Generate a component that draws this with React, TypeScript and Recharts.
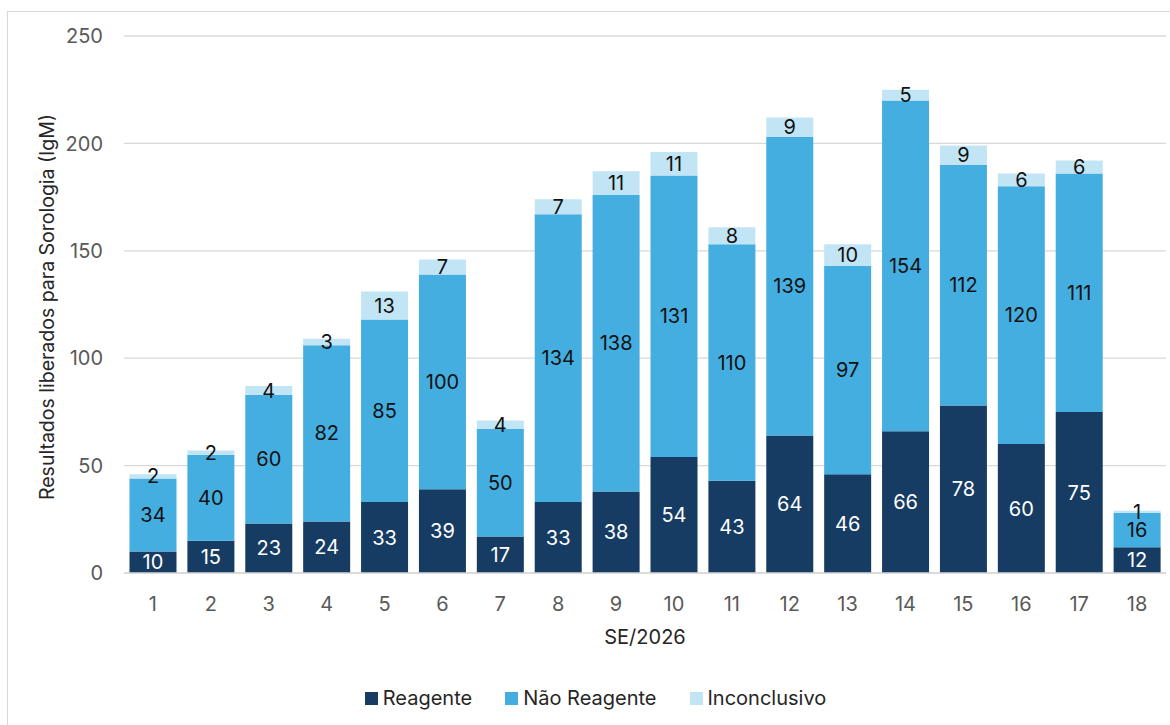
import { BarChart, Bar, XAxis, YAxis, CartesianGrid, Legend, LabelList, Label } from 'recharts';

const semanas = ['1', '2', '3', '4', '5', '6', '7', '8', '9', '10', '11', '12', '13', '14', '15', '16', '17', '18'];
const reagente = [10, 15, 23, 24, 33, 39, 17, 33, 38, 54, 43, 64, 46, 66, 78, 60, 75, 12];
const naoReagente = [34, 40, 60, 82, 85, 100, 50, 134, 138, 131, 110, 139, 97, 154, 112, 120, 111, 16];
const inconclusivo = [2, 2, 4, 3, 13, 7, 4, 7, 11, 11, 8, 9, 10, 5, 9, 6, 6, 1];
const yTicks = [0, 50, 100, 150, 200, 250];

const data = semanas.map((s, i) => ({
  se: s,
  reagente: reagente[i],
  naoReagente: naoReagente[i],
  inconclusivo: inconclusivo[i],
}));

const FONT = 'Inter, "Liberation Sans", Arial, sans-serif';
const C_DARK = '#173c63';
const C_MID = '#45aee0';
const C_LIGHT = '#c2e5f6';

const legendItems = [
  { label: 'Reagente', color: C_DARK },
  { label: 'Não Reagente', color: C_MID },
  { label: 'Inconclusivo', color: C_LIGHT },
];

function LegendBox() {
  return (
    <div style={{ display: 'flex', justifyContent: 'center', gap: 33, paddingTop: 16, paddingLeft: 25, fontFamily: FONT }}>
      {legendItems.map((it) => (
        <div key={it.label} style={{ display: 'flex', alignItems: 'center', fontSize: 20, lineHeight: '22px', color: '#262626' }}>
          <span style={{ display: 'inline-block', width: 13, height: 13, background: it.color, marginRight: 5 }} />
          {it.label}
        </div>
      ))}
    </div>
  );
}

export default function App() {
  return (
    <div style={{ position: 'absolute', left: 0, top: 0, width: 1170, height: 725, background: '#fff', overflow: 'hidden' }}>
      <div style={{ position: 'absolute', left: 7, top: 11, width: 1170, height: 720, border: '1.5px solid #d9d9d9' }} />
      <BarChart
        width={1170}
        height={725}
        data={data}
        margin={{ top: 36, right: 4, left: 0, bottom: 0 }}
        barCategoryGap="9.5%"
        style={{ fontFamily: FONT }}
      >
        <CartesianGrid vertical={false} stroke="#d9d9d9" strokeWidth={1.3} />
        <XAxis
          dataKey="se"
          height={98}
          tickLine={false}
          axisLine={{ stroke: '#d9d9d9', strokeWidth: 1.3 }}
          tick={{ fill: '#595959', fontSize: 20 }}
          tickMargin={18}
        >
          <Label
            content={(p: any) => {
              const vb = p.viewBox || {};
              return (
                <text x={vb.x + vb.width / 2} y={637} textAnchor="middle" dominantBaseline="central" fill="#262626" fontSize={20}>
                  SE/2026
                </text>
              );
            }}
          />
        </XAxis>
        <YAxis
          width={124}
          domain={[0, 250]}
          ticks={yTicks}
          tickLine={false}
          axisLine={false}
          tick={{ fill: '#595959', fontSize: 20 }}
          tickMargin={15}
        >
          <Label
            content={() => (
              <text
                x={47}
                y={307}
                transform="rotate(-90 47 307)"
                textAnchor="middle"
                dominantBaseline="central"
                fill="#262626"
                fontSize={19.5}
              >
                Resultados liberados para Sorologia (IgM)
              </text>
            )}
          />
        </YAxis>
        <Legend verticalAlign="bottom" wrapperStyle={{ height: 54 }} content={() => <LegendBox />} />
        <Bar dataKey="reagente" name="Reagente" stackId="a" fill={C_DARK} isAnimationActive={false}>
          <LabelList dataKey="reagente" position="center" fill="#ffffff" fontSize={20} />
        </Bar>
        <Bar dataKey="naoReagente" name="Não Reagente" stackId="a" fill={C_MID} isAnimationActive={false}>
          <LabelList dataKey="naoReagente" position="center" fill="#111111" fontSize={20} />
        </Bar>
        <Bar dataKey="inconclusivo" name="Inconclusivo" stackId="a" fill={C_LIGHT} isAnimationActive={false}>
          <LabelList dataKey="inconclusivo" position="center" fill="#111111" fontSize={20} />
        </Bar>
      </BarChart>
    </div>
  );
}
